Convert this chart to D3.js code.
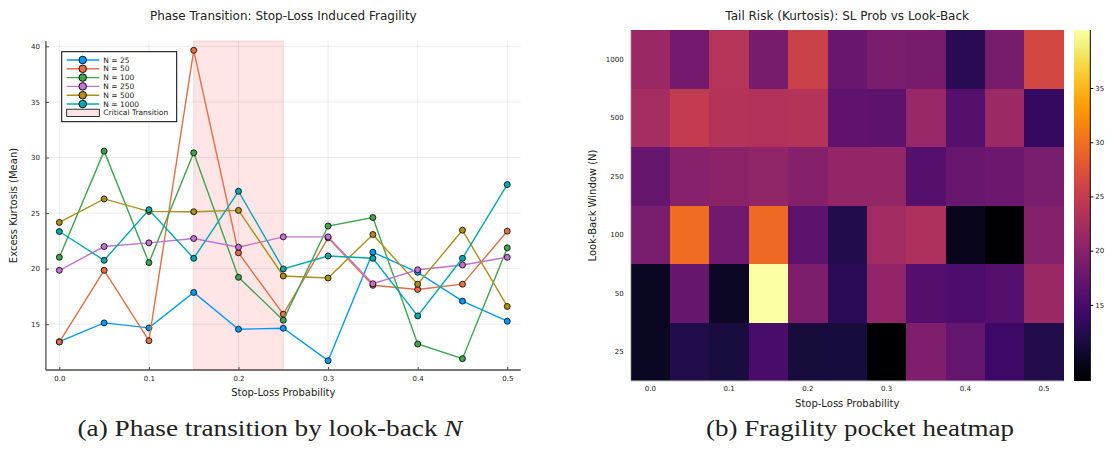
<!DOCTYPE html>
<html><head><meta charset="utf-8">
<script src="https://cdn.jsdelivr.net/npm/d3@7"></script>
<style>body{margin:0;background:#fff} svg{display:block} text{font-family:"DejaVu Sans",sans-serif;fill:#222}</style>
</head><body><svg id="c" width="1112" height="454"></svg>
<script>
// ---------------- data ----------------
const slProb = [0.0,0.05,0.1,0.15,0.2,0.25,0.3,0.35,0.4,0.45,0.5];
const lookBack = [25,50,100,250,500,1000];
const seriesNames = ["N = 25","N = 50","N = 100","N = 250","N = 500","N = 1000"];
const kurtN25   = [13.43,15.12,14.67,17.86,14.55,14.64,11.72,21.48,19.67,17.08,15.27];
const kurtN50   = [13.40,19.85,13.52,39.64,21.42,15.90,22.77,18.50,18.13,18.60,23.37];
const kurtN100  = [21.02,30.57,20.54,30.42,19.22,15.36,23.83,24.60,13.22,11.90,21.87];
const kurtN250  = [19.85,21.99,22.32,22.71,21.93,22.86,22.86,18.64,19.90,20.33,21.02];
const kurtN500  = [24.16,26.27,25.15,25.12,25.24,19.34,19.16,23.07,18.60,23.46,16.60];
const kurtN1000 = [23.34,20.75,25.30,20.93,26.96,19.97,21.14,20.93,15.75,20.93,27.56];
const criticalSpan = [0.15,0.25];
const lineXTicks = [0.0,0.1,0.2,0.3,0.4,0.5];
const lineYTicks = [15,20,25,30,35,40];
const heatXTickLabels = ["0.0","0.1","0.2","0.3","0.4","0.5"];
const colorbarTicks = [15,20,25,30,35];
const colorbarAxisDomain = [7.98,40.35];   // as drawn by the original colorbar axis

// ---------------- styles ----------------
const seriesData = [kurtN25,kurtN50,kurtN100,kurtN250,kurtN500,kurtN1000];
const palette = ["#009AFA","#E36F47","#3EA44E","#C371D2","#AC8E18","#00A9AD"];

const svg = d3.select("#c");

// ================= left: line chart =================
const L = {left:45.9, right:520.7, top:41, bottom:370};
const allVals = seriesData.flat();
const [vmin, vmax] = d3.extent(allVals);
const pad = (vmax - vmin)*0.03;
const xs = d3.scaleLinear().domain([-0.015,0.515]).range([L.left, L.right]);
const ys = d3.scaleLinear().domain([vmin-pad, vmax+pad]).range([L.bottom, L.top]);

const gL = svg.append("g");
// critical span
gL.append("rect")
  .attr("x", xs(criticalSpan[0])).attr("y", L.top)
  .attr("width", xs(criticalSpan[1]) - xs(criticalSpan[0]))
  .attr("height", L.bottom - L.top)
  .attr("fill","#ff0000").attr("fill-opacity",0.1)
  .attr("stroke","#8b0000").attr("stroke-opacity",0.12).attr("stroke-width",1);
// grid
gL.append("g").selectAll("line").data(lineXTicks).join("line")
  .attr("x1",d=>xs(d)).attr("x2",d=>xs(d)).attr("y1",L.top).attr("y2",L.bottom)
  .attr("stroke","#000").attr("stroke-opacity",0.1).attr("stroke-width",0.8);
gL.append("g").selectAll("line").data(lineYTicks).join("line")
  .attr("y1",d=>ys(d)).attr("y2",d=>ys(d)).attr("x1",L.left).attr("x2",L.right)
  .attr("stroke","#000").attr("stroke-opacity",0.1).attr("stroke-width",0.8);

// axes
const xAxis = d3.axisBottom(xs).tickValues(lineXTicks).tickSize(-3).tickPadding(6).tickFormat(d3.format(".1f"));
const yAxis = d3.axisLeft(ys).tickValues(lineYTicks).tickSize(-3).tickPadding(6).tickFormat(d3.format("d"));
const gx = gL.append("g").attr("transform",`translate(0,${L.bottom})`).call(xAxis);
const gy = gL.append("g").attr("transform",`translate(${L.left},0)`).call(yAxis);
[gx,gy].forEach(g=>{
  g.select(".domain").attr("stroke","#4d4d4d").attr("stroke-width",1.3);
  g.selectAll(".tick line").attr("stroke","#4d4d4d").attr("stroke-width",1);
  g.selectAll(".tick text").attr("font-size",7).attr("font-family","DejaVu Sans").attr("fill","#222");
});
gx.select(".domain").attr("d",`M${L.left},0H${L.right}`);
gy.select(".domain").attr("d",`M0,${L.bottom}V${L.top}`);

// series
const line = d3.line().x((d,i)=>xs(slProb[i])).y(d=>ys(d));
seriesData.forEach((s,k)=>{
  const g = gL.append("g");
  g.append("path").datum(s).attr("d",line).attr("fill","none")
    .attr("stroke",palette[k]).attr("stroke-width",1.4);
  g.selectAll("circle").data(s).join("circle")
    .attr("cx",(d,i)=>xs(slProb[i])).attr("cy",d=>ys(d)).attr("r",3)
    .attr("fill",palette[k]).attr("stroke","#000").attr("stroke-width",0.8);
});

// titles
gL.append("text").attr("x",(L.left+L.right)/2).attr("y",20).attr("text-anchor","middle")
  .attr("font-size",12).text("Phase Transition: Stop-Loss Induced Fragility");
gL.append("text").attr("x",(L.left+L.right)/2).attr("y",396).attr("text-anchor","middle")
  .attr("font-size",10).text("Stop-Loss Probability");
gL.append("text").attr("transform",`translate(17,${(L.top+L.bottom)/2}) rotate(-90)`)
  .attr("text-anchor","middle").attr("font-size",10).text("Excess Kurtosis (Mean)");

// legend
const lg = gL.append("g").attr("transform","translate(61.7,51.7)");
lg.append("rect").attr("width",115).attr("height",70).attr("fill","#fff").attr("stroke","#000").attr("stroke-width",1);
seriesNames.forEach((nm,k)=>{
  const yy = 8.3 + k*8.8;
  lg.append("line").attr("x1",5).attr("x2",37.6).attr("y1",yy).attr("y2",yy)
    .attr("stroke",palette[k]).attr("stroke-width",1.4);
  lg.append("circle").attr("cx",21).attr("cy",yy).attr("r",3.8)
    .attr("fill",palette[k]).attr("stroke","#000").attr("stroke-width",0.9);
  lg.append("text").attr("x",41.6).attr("y",yy).attr("dy","0.35em").attr("font-size",7.5).text(nm);
});
{
  const yy = 8.3 + 6*8.8;
  lg.append("rect").attr("x",5).attr("y",yy-3.6).attr("width",32.6).attr("height",7.2)
    .attr("fill","#fde5e5").attr("stroke","#000").attr("stroke-width",0.8);
  lg.append("text").attr("x",41.6).attr("y",yy).attr("dy","0.35em").attr("font-size",7.5).text("Critical Transition");
}

// ================= right: heatmap =================
const H = {left:630.7, right:1063.7, top:30, bottom:381};
const hx = d3.scaleBand().domain(slProb).range([H.left,H.right]).padding(0);
const hy = d3.scaleBand().domain(lookBack).range([H.bottom,H.top]).padding(0);
const cscale = d3.scaleSequential(d3.interpolateInferno).domain([vmin,vmax]);
const cells = [];
lookBack.forEach((n,r)=>slProb.forEach((p,c)=>cells.push({n,p,v:seriesData[r][c]})));
const gH = svg.append("g");
gH.selectAll("rect").data(cells).join("rect")
  .attr("x",d=>hx(d.p)).attr("y",d=>hy(d.n))
  .attr("width",hx.bandwidth()+0.4).attr("height",hy.bandwidth()+0.4)
  .attr("fill",d=>cscale(d.v)).attr("shape-rendering","crispEdges");
// frame lines
gH.append("line").attr("x1",H.left).attr("x2",H.left).attr("y1",H.top).attr("y2",H.bottom)
  .attr("stroke","#c8c8c8").attr("stroke-width",1);
gH.append("line").attr("x1",H.left).attr("x2",H.right).attr("y1",H.bottom).attr("y2",H.bottom)
  .attr("stroke","#c8c8c8").attr("stroke-width",1);
// tick labels
const heatLabelCols = slProb.filter((p,i)=>i%2===0);
gH.append("g").selectAll("text").data(heatLabelCols).join("text")
  .attr("x",d=>hx(d)+hx.bandwidth()/2).attr("y",H.bottom+10).attr("text-anchor","middle")
  .attr("font-size",7).text((d,i)=>heatXTickLabels[i]);
gH.append("g").selectAll("text").data(lookBack).join("text")
  .attr("x",H.left-7).attr("y",d=>hy(d)+hy.bandwidth()/2).attr("dy","0.35em").attr("text-anchor","end")
  .attr("font-size",7).text(d=>d);
gH.append("text").attr("x",(H.left+H.right)/2).attr("y",20).attr("text-anchor","middle")
  .attr("font-size",12).text("Tail Risk (Kurtosis): SL Prob vs Look-Back");
gH.append("text").attr("x",(H.left+H.right)/2).attr("y",407).attr("text-anchor","middle")
  .attr("font-size",10).text("Stop-Loss Probability");
gH.append("text").attr("transform",`translate(596,${(H.top+H.bottom)/2}) rotate(-90)`)
  .attr("text-anchor","middle").attr("font-size",10).text("Look-Back Window (N)");

// colorbar
const CB = {left:1074, right:1090.3, top:H.top, bottom:H.bottom};
const defs = svg.append("defs");
const grad = defs.append("linearGradient").attr("id","cbg").attr("x1",0).attr("x2",0).attr("y1",1).attr("y2",0);
d3.range(0,1.0001,0.05).forEach(t=>grad.append("stop").attr("offset",t).attr("stop-color",d3.interpolateInferno(t)));
gH.append("rect").attr("x",CB.left).attr("y",CB.top).attr("width",CB.right-CB.left).attr("height",CB.bottom-CB.top)
  .attr("fill","url(#cbg)");
const cbs = d3.scaleLinear().domain(colorbarAxisDomain).range([CB.bottom,CB.top]);
const cbAxis = d3.axisRight(cbs).tickValues(colorbarTicks).tickSize(3).tickPadding(2).tickFormat(d3.format("d"));
const gcb = gH.append("g").attr("transform",`translate(${CB.right},0)`).call(cbAxis);
gcb.select(".domain").attr("d",`M0,${CB.bottom}V${CB.top}`).attr("stroke","#000").attr("stroke-width",1);
gcb.selectAll(".tick line").attr("stroke","#000");
gcb.selectAll(".tick text").attr("font-size",7).attr("font-family","DejaVu Sans").attr("fill","#222");

// ================= captions =================
const cap = svg.append("g");
const capA = cap.append("text").attr("x",270).attr("y",436).attr("text-anchor","middle")
  .attr("font-size",24).style("font-family","'Liberation Serif',serif")
  .attr("textLength",385).attr("lengthAdjust","spacingAndGlyphs");
capA.append("tspan").text("(a) Phase transition by look-back ");
capA.append("tspan").attr("font-style","italic").text("N");
cap.append("text").attr("x",860).attr("y",436).attr("text-anchor","middle")
  .attr("font-size",24).style("font-family","'Liberation Serif',serif")
  .attr("textLength",308).attr("lengthAdjust","spacingAndGlyphs").text("(b) Fragility pocket heatmap");
</script></body></html>
